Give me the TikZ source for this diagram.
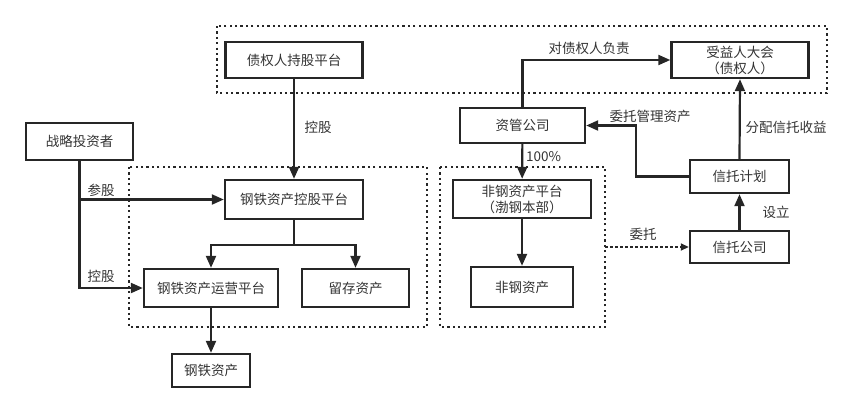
\documentclass[tikz,border=0pt]{standalone}
\usepackage{fontspec}
\setmainfont{Noto Sans CJK SC}
\usetikzlibrary{arrows.meta,positioning}
\begin{document}
\begin{tikzpicture}[x=1bp,y=-1bp,
  every node/.style={font=\fontsize{13.5bp}{16bp}\selectfont, text=black!80},
  box/.style={draw=black!85, line width=2.4bp, rectangle, inner sep=0pt, align=center},
  lbl/.style={inner sep=1pt},
  conn/.style={draw=black!85, line width=2.2bp, -{Triangle[length=12bp,width=10bp]}},
  group/.style={draw=black!85, line width=2.2bp, dash pattern=on 2.2bp off 3.2bp},
  dashconn/.style={draw=black!85, line width=1.6bp, dash pattern=on 2.5bp off 2.5bp, -{Triangle[length=8bp,width=7bp]}}]
\useasboundingbox (0,0) rectangle (866,414);
% dotted groups
\draw[group] (217,26) rectangle (827,93);
\draw[group] (129,167) rectangle (427,327);
\draw[group] (440,167) rectangle (605,327);
% boxes
\node[box, minimum width=137bp, minimum height=36bp] (zqr) at (294,60) {债权人持股平台};
\node[box, minimum width=137bp, minimum height=36bp] (syr) at (740,60) {受益人大会\\（债权人）};
\node[box, minimum width=107bp, minimum height=37bp] (zl) at (79.5,141.5) {战略投资者};
\node[box, minimum width=138bp, minimum height=39bp] (kg) at (294,199.5) {钢铁资产控股平台};
\node[box, minimum width=134bp, minimum height=38bp] (yy) at (211,288) {钢铁资产运营平台};
\node[box, minimum width=107bp, minimum height=38bp] (lc) at (355.5,288) {留存资产};
\node[box, minimum width=78bp, minimum height=33bp] (gt) at (211,370.5) {钢铁资产};
\node[box, minimum width=125bp, minimum height=35bp] (zg) at (522.5,125.5) {资管公司};
\node[box, minimum width=138bp, minimum height=38bp] (fg) at (522,199) {非钢资产平台\\（渤钢本部）};
\node[box, minimum width=102bp, minimum height=40bp] (fgzc) at (522,287) {非钢资产};
\node[box, minimum width=99bp, minimum height=33bp] (xtjh) at (739.5,176.5) {信托计划};
\node[box, minimum width=99bp, minimum height=32bp] (xtgs) at (739.5,247) {信托公司};
\coordinate (fgedge) at (605,247);
% connectors
\draw[conn] (zqr) -- (kg);
\node[lbl] (l1) at (318,127) {控股};
\draw[conn] (zl.south) |- (kg.west);
\node[lbl] (l2) at (101,190) {参股};
\draw[conn] (zl.south) |- (yy.west);
\node[lbl] (l3) at (101,276) {控股};
\draw[conn] (kg.south) -- ++(0,25) -| (yy.north);
\draw[conn] (kg.south) -- ++(0,25) -| (lc.north);
\draw[conn] (yy) -- (gt);
\draw[conn] (zg.north) |- (syr.west);
\node[lbl] (l4) at (589,48) {对债权人负责};
\draw[conn] (zg) -- (fg);
\node[lbl, anchor=west] (l5) at (525,157) {100\%};
\draw[conn] (fg) -- (fgzc);
\draw[conn] (xtjh.north) -- (syr.south);
\node[lbl] (l6) at (786,127) {分配信托收益};
\draw[conn] (xtjh.west) -- ++(-53,0) |- (zg.east);
\node[lbl] (l7) at (650,116) {委托管理资产};
\draw[conn] (xtgs) -- (xtjh);
\node[lbl] (l8) at (776,212) {设立};
\draw[dashconn] (fgedge) -- (xtgs.west);
\node[lbl] (l9) at (643,234) {委托};
\end{tikzpicture}
\end{document}
